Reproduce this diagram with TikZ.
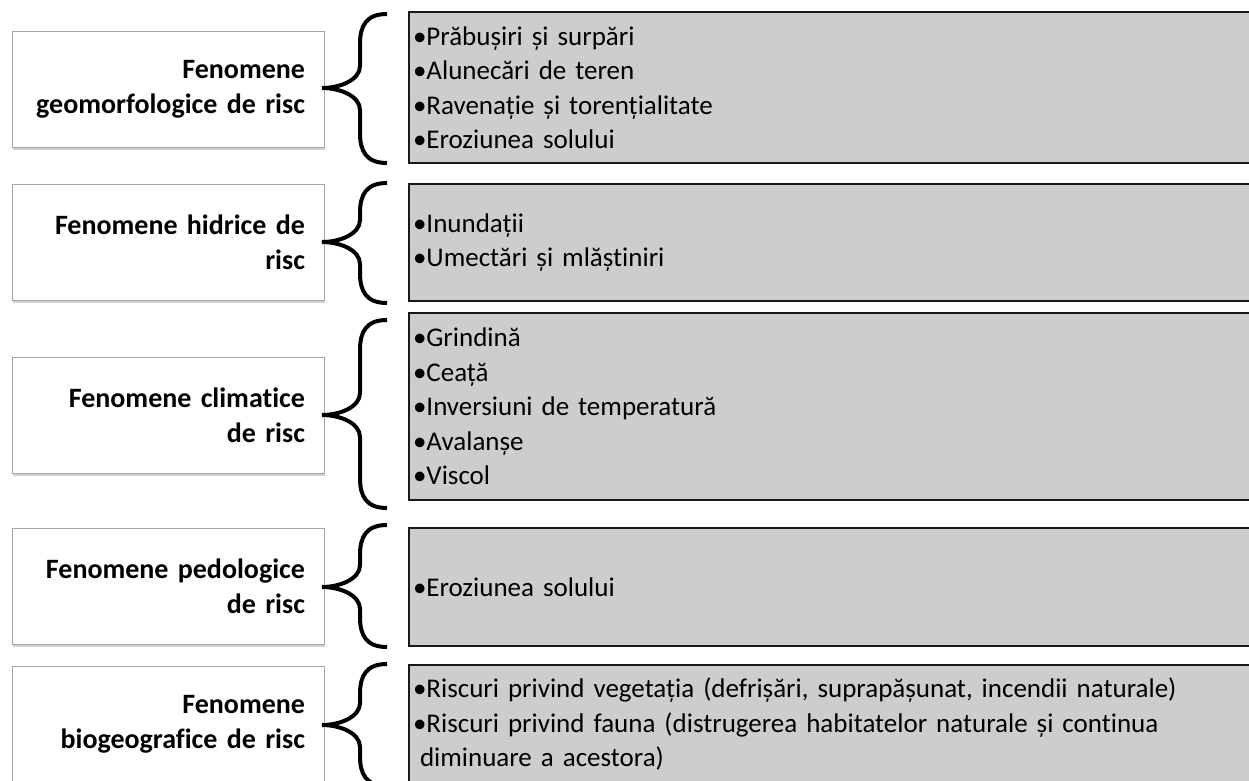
\documentclass[tikz,border=0pt]{standalone}
\usepackage{fontspec}
\setmainfont{Carlito}[Ligatures=NoCommon,RawFeature={-calt}]
\usetikzlibrary{shadows}
\definecolor{boxgray}{RGB}{205,205,205}
\definecolor{lborder}{RGB}{165,165,165}
\newcommand{\mybrace}[3]{\draw[bracestroke] (387,#1) .. controls (366,#1) and (360,#1+12) .. (360,#1+30) -- (360,#2-22) .. controls (360,#2-8) and (340,#2) .. (322,#2) .. controls (340,#2) and (360,#2+8) .. (360,#2+22) -- (360,#3-30) .. controls (360,#3-12) and (366,#3) .. (387,#3);}
\begin{document}
\begin{tikzpicture}[x=1pt,y=-1pt,
  lbox/.style={draw=lborder, line width=0.8pt, fill=white, minimum width=312pt, minimum height=116pt, inner sep=0pt, text width=274pt, align=right, font=\fontsize{28}{35}\selectfont\bfseries,
    drop shadow={shadow xshift=1pt, shadow yshift=-3pt, fill=black, opacity=0.18}},
  rbox/.style={draw=black!90, line width=2pt, fill=boxgray, anchor=west, minimum width=860pt, inner xsep=4pt, inner ysep=0pt, text width=852pt, align=left, font=\fontsize{27}{34.5}\selectfont},
  bracestroke/.style={line width=4pt, black}]
\useasboundingbox (0,0) rectangle (1249,780);
\clip (0,0) rectangle (1249,780);
\fill[white] (0,0) rectangle (1249,780);

\node[lbox] (l1) at (168,89) {Fenomene\\geomorfologice de risc};
\node[lbox] (l2) at (168,242) {Fenomene hidrice de\\risc};
\node[lbox] (l3) at (168,415) {Fenomene climatice\\de risc};
\node[lbox] (l4) at (168,586) {Fenomene pedologice\\de risc};
\node[lbox] (l5) at (168,724) {Fenomene\\biogeografice de risc};

\node[rbox, minimum height=151pt] (r1) at (408,87.5) {•Prăbușiri și surpări\\•Alunecări de teren\\•Ravenație și torențialitate\\•Eroziunea solului};
\node[rbox, minimum height=117pt] (r2) at (408,242.5) {•Inundații\\•Umectări și mlăștiniri};
\node[rbox, minimum height=187pt] (r3) at (408,406.5) {•Grindină\\•Ceață\\•Inversiuni de temperatură\\•Avalanșe\\•Viscol};
\node[rbox, minimum height=118pt] (r4) at (408,587) {•Eroziunea solului};
\node[rbox, minimum height=118pt] (r5) at (408,724) {•Riscuri privind vegetația (defrișări, suprapășunat, incendii naturale)\\•Riscuri privind fauna (distrugerea habitatelor naturale și continua\\\hspace*{7pt}diminuare a acestora)};

\mybrace{14}{88}{163}
\mybrace{183}{242}{303}
\mybrace{320}{415}{508}
\mybrace{525}{587}{647}
\mybrace{664}{725}{786}
\end{tikzpicture}
\end{document}
